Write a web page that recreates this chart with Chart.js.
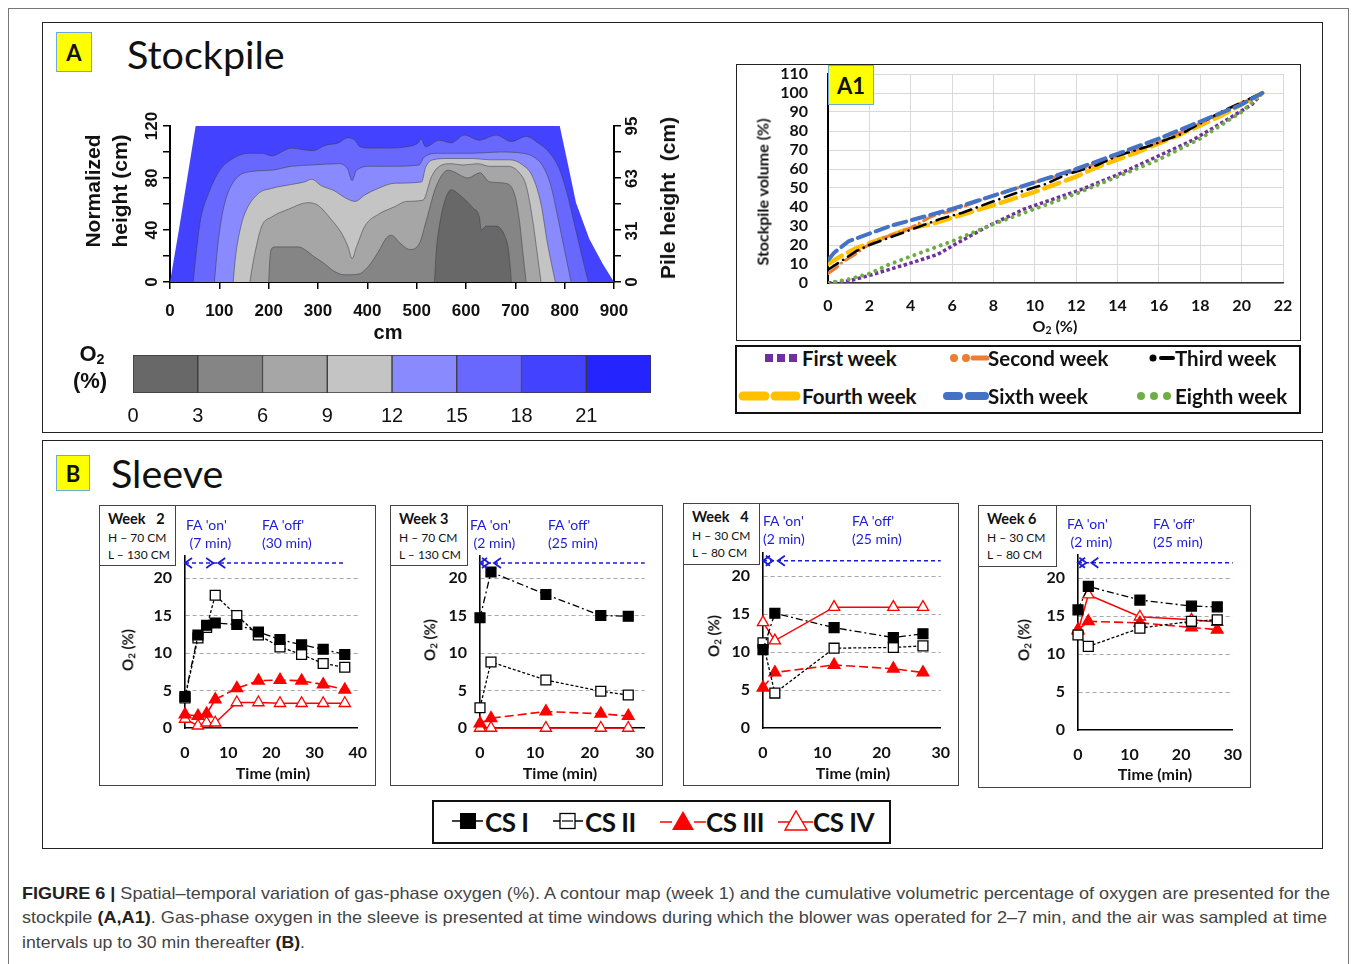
<!DOCTYPE html>
<html>
<head>
<meta charset="utf-8">
<title>Figure 6</title>
<script src="https://cdn.jsdelivr.net/npm/chart.js@4.4.1/dist/chart.umd.min.js"></script>
<style>
  body { margin: 0; background: #fff; }
  #page { position: relative; width: 1357px; height: 964px; overflow: hidden; font-family: Lato, "Liberation Sans", sans-serif; color: #111; }
  .box { position: absolute; box-sizing: border-box; }
  canvas { position: absolute; }
  .c { position: absolute; transform: translate(-50%, -50%); white-space: nowrap; }
  .r { position: absolute; transform: translate(-50%, -50%) rotate(-90deg); white-space: nowrap; }
  .l { position: absolute; transform: translateY(-50%); white-space: nowrap; }
  .tag { position: absolute; box-sizing: border-box; background: #ffff00; border: 1px solid #6fa8dc; font: bold 22px Lato, sans-serif; display: flex; align-items: center; justify-content: center; }
  .arial { font-family: "Liberation Sans", Arial, sans-serif; font-weight: bold; }
  .info { position: absolute; box-sizing: border-box; border: 1.5px solid #444; background: #fff; padding: 4px 0 0 8px; font-size: 12px; line-height: 17.5px; }
  .info b { font-size: 14.5px; }
  .fa { position: absolute; color: #1c1cd6; font-size: 14px; line-height: 18px; white-space: nowrap; }
  .bt { font-weight: bold; font-size: 16px; }
  .leg { font-weight: bold; font-size: 20.5px; }
  .legb { font-weight: bold; font-size: 26px; letter-spacing: -0.5px; }
  .cap { position: absolute; left: 22px; white-space: nowrap; transform-origin: 0 50%; font-family: "Liberation Sans Narrow", "Liberation Sans", Arial, sans-serif; font-size: 16.5px; color: #444; }
  .cap b { color: #222; }
  sub { font-size: 0.65em; vertical-align: -0.25em; }
</style>
</head>
<body>
<div id="page">
  <!-- frames -->
  <div class="box" style="left:8px;top:8px;width:1341px;height:980px;border:1px solid #777;"></div>
  <div class="box" style="left:42px;top:22px;width:1281px;height:411px;border:1.5px solid #222;"></div>
  <div class="box" style="left:42px;top:440px;width:1281px;height:409px;border:1.5px solid #222;"></div>

  <!-- panel A -->
  <div class="tag" style="left:56px;top:32px;width:36px;height:40px;">A</div>
  <div class="l" style="left:127px;top:53px;font-size:39.5px;">Stockpile</div>
  <canvas id="contour" width="560" height="250" style="left:100px;top:100px"></canvas>
  <div class="r arial" style="left:93px;top:191px;font-size:21px;">Normalized</div>
  <div class="r arial" style="left:120px;top:191px;font-size:21px;">height (cm)</div>
  <div class="r arial" style="left:668px;top:198px;font-size:21px;">Pile height&nbsp; (cm)</div>
  <div class="c arial" style="left:388px;top:332px;font-size:20px;">cm</div>
  <div class="c arial" style="left:92px;top:354px;font-size:22px;">O<sub>2</sub></div>
  <div class="c arial" style="left:90px;top:381px;font-size:22px;">(%)</div>
  <canvas id="colorbar" width="545" height="80" style="left:120px;top:352px"></canvas>

  <!-- panel A1 -->
  <div class="box" style="left:736px;top:64px;width:565px;height:277px;border:1.5px solid #222;"></div>
  <canvas id="cumul" width="558" height="272" style="left:740px;top:66px"></canvas>
  <div class="tag" style="left:828px;top:65px;width:46px;height:40px;">A1</div>
  <div class="r" style="left:762px;top:192px;font-size:16px;font-weight:bold;">Stockpile volume (%)</div>
  <div class="c" style="left:1055px;top:326px;font-size:16px;font-weight:bold;">O<sub>2</sub> (%)</div>
  <div class="box" style="left:735px;top:345px;width:566px;height:69px;border:2px solid #111;"></div>
  <svg class="box" style="left:735px;top:345px" width="566" height="69">
    <line x1="30" y1="13" x2="62" y2="13" stroke="#7030a0" stroke-width="8" stroke-dasharray="8,4"/>
    <circle cx="219" cy="13" r="4" fill="#ed7d31"/><circle cx="231" cy="13" r="4" fill="#ed7d31"/>
    <line x1="238" y1="13" x2="252" y2="13" stroke="#ed7d31" stroke-width="5" stroke-linecap="round"/>
    <circle cx="418" cy="13" r="3.5" fill="#000"/>
    <line x1="426" y1="13" x2="438" y2="13" stroke="#000" stroke-width="4" stroke-linecap="round"/>
    <line x1="8" y1="51" x2="30" y2="51" stroke="#ffc000" stroke-width="9" stroke-linecap="round"/>
    <line x1="40" y1="51" x2="61" y2="51" stroke="#ffc000" stroke-width="9" stroke-linecap="round"/>
    <line x1="212" y1="51" x2="224" y2="51" stroke="#4472c4" stroke-width="8" stroke-linecap="round"/>
    <line x1="234" y1="51" x2="250" y2="51" stroke="#4472c4" stroke-width="8" stroke-linecap="round"/>
    <circle cx="406" cy="51" r="4" fill="#70ad47"/><circle cx="419" cy="51" r="4" fill="#70ad47"/><circle cx="432" cy="51" r="4" fill="#70ad47"/>
  </svg>
  <div class="l leg" style="left:802px;top:358px;">First week</div>
  <div class="l leg" style="left:988px;top:358px;">Second week</div>
  <div class="l leg" style="left:1175px;top:358px;">Third week</div>
  <div class="l leg" style="left:802px;top:396px;">Fourth week</div>
  <div class="l leg" style="left:988px;top:396px;">Sixth week</div>
  <div class="l leg" style="left:1175px;top:396px;">Eighth week</div>

  <!-- panel B -->
  <div class="tag" style="left:56px;top:455px;width:34px;height:36px;">B</div>
  <div class="l" style="left:111px;top:472px;font-size:39.5px;">Sleeve</div>

  <div class="box" style="left:99px;top:505px;width:277px;height:281px;border:1.5px solid #444;"></div>
  <div class="box" style="left:390px;top:505px;width:273px;height:281px;border:1.5px solid #444;"></div>
  <div class="box" style="left:683px;top:503px;width:276px;height:283px;border:1.5px solid #444;"></div>
  <div class="box" style="left:978px;top:505px;width:273px;height:283px;border:1.5px solid #444;"></div>

  <canvas id="w2" width="274" height="278" style="left:100px;top:506px"></canvas>
  <canvas id="w3" width="270" height="278" style="left:391px;top:506px"></canvas>
  <canvas id="w4" width="273" height="280" style="left:684px;top:504px"></canvas>
  <canvas id="w6" width="270" height="280" style="left:979px;top:506px"></canvas>

  <div class="info" style="left:99px;top:505px;width:77px;height:61px;"><b>Week&nbsp;&nbsp; 2</b><br>H – 70 CM<br>L – 130 CM</div>
  <div class="info" style="left:390px;top:505px;width:78px;height:61px;"><b>Week 3</b><br>H – 70 CM<br>L – 130 CM</div>
  <div class="info" style="left:683px;top:503px;width:77px;height:62px;"><b>Week&nbsp;&nbsp; 4</b><br>H – 30 CM<br>L – 80 CM</div>
  <div class="info" style="left:978px;top:505px;width:79px;height:62px;"><b>Week 6</b><br>H – 30 CM<br>L – 80 CM</div>

  <div class="fa" style="left:186px;top:516px;">FA 'on'<br>&nbsp;(7 min)</div>
  <div class="fa" style="left:262px;top:516px;">FA 'off'<br>(30 min)</div>
  <div class="fa" style="left:470px;top:516px;">FA 'on'<br>&nbsp;(2 min)</div>
  <div class="fa" style="left:548px;top:516px;">FA 'off'<br>(25 min)</div>
  <div class="fa" style="left:763px;top:512px;">FA 'on'<br>(2 min)</div>
  <div class="fa" style="left:852px;top:512px;">FA 'off'<br>(25 min)</div>
  <div class="fa" style="left:1067px;top:515px;">FA 'on'<br>&nbsp;(2 min)</div>
  <div class="fa" style="left:1153px;top:515px;">FA 'off'<br>(25 min)</div>

  <div class="r bt" style="left:128px;top:650px;font-size:15px;">O<sub>2</sub> (%)</div>
  <div class="r bt" style="left:430px;top:640px;font-size:15px;">O<sub>2</sub> (%)</div>
  <div class="r bt" style="left:714px;top:636px;font-size:15px;">O<sub>2</sub> (%)</div>
  <div class="r bt" style="left:1024px;top:640px;font-size:15px;">O<sub>2</sub> (%)</div>
  <div class="c bt" style="left:273px;top:772px;">Time (min)</div>
  <div class="c bt" style="left:560px;top:772px;">Time (min)</div>
  <div class="c bt" style="left:853px;top:772px;">Time (min)</div>
  <div class="c bt" style="left:1155px;top:773px;">Time (min)</div>

  <div class="box" style="left:432px;top:800px;width:459px;height:44px;border:2px solid #111;"></div>
  <svg class="box" style="left:432px;top:800px" width="459" height="44">
    <line x1="20" y1="21" x2="51" y2="21" stroke="#000" stroke-width="1.5"/>
    <rect x="28" y="13" width="16" height="16" fill="#000"/>
    <line x1="121" y1="21" x2="151" y2="21" stroke="#000" stroke-width="1.5"/>
    <rect x="128" y="13.5" width="15" height="15" fill="#fff" stroke="#000" stroke-width="1.3"/>
    <line x1="130" y1="21" x2="141" y2="21" stroke="#000" stroke-width="1.2"/>
    <line x1="228" y1="22" x2="240" y2="22" stroke="#f00" stroke-width="1.5"/>
    <line x1="262" y1="22" x2="274" y2="22" stroke="#f00" stroke-width="1.5"/>
    <polygon points="251,11 262,30 240,30" fill="#f00"/>
    <line x1="346" y1="22" x2="381" y2="22" stroke="#f00" stroke-width="1.5"/>
    <polygon points="364,11 375,30 353,30" fill="#fff" stroke="#f00" stroke-width="1.4"/>
  </svg>
  <div class="l legb" style="left:485px;top:822px;">CS I</div>
  <div class="l legb" style="left:585px;top:822px;">CS II</div>
  <div class="l legb" style="left:706px;top:822px;">CS III</div>
  <div class="l legb" style="left:813px;top:822px;">CS IV</div>

  <!-- caption -->
  <div class="cap" data-w="1308" style="top:884px;"><b>FIGURE 6 |</b> Spatial–temporal variation of gas-phase oxygen (%). A contour map (week 1) and the cumulative volumetric percentage of oxygen are presented for the</div>
  <div class="cap" data-w="1305" style="top:908px;">stockpile <b>(A,A1)</b>. Gas-phase oxygen in the sleeve is presented at time windows during which the blower was operated for 2–7 min, and the air was sampled at time</div>
  <div class="cap" data-w="283" style="top:933px;">intervals up to 30 min thereafter <b>(B)</b>.</div>
</div>

<script>
// ---- Panel A: contour edges (x in cm, normalized height in cm), one per O2 band ----
const edge0 = [[536,0],[540,25],[546,43],[556,61],[570,71],[587,67],[614,57],[627,50],[631,40],[641,43],[661,43],[678,36],[686,25],[690,10],[692,0]];
const edge3 = [[200,0],[202,15],[205,25],[213,27],[260,27],[277,24],[290,20],[310,15],[334,8],[354,5.5],[381,6],[402,12],[422,23],[439,34],[449,36],[466,30],[486,25],[506,30],[520,48],[540,74],[564,86],[574,85],[604,80],[628,84],[648,77],[678,76],[698,68],[708,48],[716,20],[722,0]];
const edge6 = [[162,0],[167,12],[172,22],[186,43],[206,50],[240,56],[280,61],[300,59],[327,48],[347,38],[361,27],[369,18],[378,27],[395,43],[422,52],[456,58],[479,62],[513,63],[530,81],[546,89],[570,91],[594,90],[624,91],[648,89],[685,89],[708,84],[722,74],[735,48],[745,20],[752,0]];
const edge9 = [[128,0],[133,20],[142,40],[152,53],[179,68],[206,72],[246,75],[273,77],[287,79],[307,74],[334,70],[354,65],[375,62],[395,67],[422,72],[456,76],[510,77],[518,88],[533,94],[564,95],[614,95],[648,94],[688,94],[715,90],[735,81],[752,60],[765,30],[781,0]];
const edge12 = [[90,0],[96,25],[104,48],[115,66],[135,80],[165,85],[206,86],[246,89],[287,90],[341,91],[360,87],[369,78],[378,86],[408,89],[445,89],[505,90],[515,96],[546,99],[614,99],[668,100],[715,99],[738,96],[756,89],[772,74],[786,50],[800,24],[813,0]];
const edge15 = [[47,0],[54,25],[62,48],[78,68],[101,86],[128,95],[159,99],[186,99],[207,97],[226,100],[246,103],[267,102],[290,101],[314,105],[341,107],[361,111],[375,109],[385,104],[408,103],[445,103],[479,104],[503,107],[509,110],[518,104],[546,109],[570,107],[597,113],[627,109],[661,113],[692,108],[722,112],[746,107],[768,100],[788,88],[805,68],[820,44],[835,20],[848,0]];
const edge18 = [[0,0],[18,40],[35,80],[52,120],[790,120],[808,88],[823,61],[850,33],[877,14],[900,0]];
const bandColors = ['#686868', '#858585', '#a6a6a6', '#c4c4c4', '#8a8aff', '#6868ff', '#4242ff', '#2424ff'];

const normTicks = [0, 40, 80, 120];
const pileTicks = [0, 31, 63, 95];
const pileMax = 95;
const o2Levels = [0, 3, 6, 9, 12, 15, 18, 21];

// ---- Panel A1: cumulative stockpile volume vs O2 ----
const firstO2 = [0, 1, 2, 3.7, 5.3, 6, 7.75, 9.5, 12.2, 14, 15.8, 17.6, 19.3, 20.5, 21];
const firstVol = [0, 1, 4, 9.5, 15, 19.5, 30, 39, 49, 57, 66, 75, 86, 94, 100];
const secondO2 = [0, 0.4, 0.7, 1.3, 1.8, 2.5, 4, 5, 6, 8, 10, 12, 14, 16, 18, 20, 21];
const secondVol = [5, 8, 11, 15, 19, 23, 29, 35, 38, 46, 53, 59, 67, 74, 84, 95, 100];
const thirdO2 = [0, 0.7, 1.4, 2, 2.5, 4, 5.5, 6.5, 8, 9, 10.5, 11.5, 13, 14, 15.5, 17, 18, 19, 20, 21];
const thirdVol = [7, 12, 17, 20, 22, 28, 34, 37, 43, 47, 52, 57, 62, 67, 72, 78, 84, 90, 95, 100];
const fourthO2 = [0, 0.3, 0.6, 1.3, 2, 3, 4, 5, 6.5, 8, 10, 12, 13, 15, 17, 19, 20, 21];
const fourthVol = [10, 12, 14, 18, 21, 25, 29, 31, 36, 41, 48, 56, 61, 69, 78, 88, 94, 100];
const sixthO2 = [0, 0.3, 1, 2, 3, 4, 6, 8, 10, 12, 14, 16, 18, 20, 21];
const sixthVol = [12, 16, 22, 26, 30, 33, 39, 46, 53, 60, 68, 76, 85, 94, 100];
const eighthO2 = [0, 1, 2, 3, 4, 6, 8, 10, 12, 14, 16, 18, 20, 21];
const eighthVol = [0, 2, 5, 10, 14, 22, 31, 39, 47, 56, 65, 76, 90, 100];

// ---- Panel B: sleeve O2 (%) vs time (min) ----
const w2Time = [0, 3, 5, 7, 12, 17, 22, 27, 32, 37];
const w2CS1 = [4.2, 12.4, 13.7, 14.0, 13.8, 12.8, 11.8, 11.1, 10.5, 9.8];
const w2CS2 = [4.0, 12.0, 13.4, 17.7, 15.0, 12.4, 10.8, 9.8, 8.6, 8.1];
const w2CS3 = [1.8, 1.6, 1.9, 3.8, 5.3, 6.3, 6.4, 6.3, 5.8, 5.1];
const w2CS4 = [1.2, 0.3, 0.7, 0.7, 3.4, 3.4, 3.3, 3.3, 3.3, 3.3];

const w3Time = [0, 2, 12, 22, 27];
const w3CS1 = [14.7, 20.8, 17.8, 15.0, 14.9];
const w3CS2 = [2.7, 8.8, 6.4, 4.9, 4.4];
const w3CS3 = [0.6, 1.3, 2.2, 1.9, 1.6];
const w3CS4 = [0, 0, 0, 0, 0];

const w4Time = [0, 2, 12, 22, 27];
const w4CS1 = [10.3, 15.1, 13.2, 11.9, 12.4];
const w4CS2 = [11.2, 4.6, 10.5, 10.6, 10.8];
const w4CS3 = [5.3, 7.3, 8.3, 7.8, 7.3];
const w4CS4 = [13.9, 11.5, 15.9, 15.9, 15.9];

const w6Time = [0, 2, 12, 22, 27];
const w6CS1 = [15.8, 18.9, 17.1, 16.3, 16.2];
const w6CS2 = [12.5, 11.0, 13.4, 14.3, 14.5];
const w6CS3 = [13.2, 14.3, 14.1, 13.5, 13.2];
const w6CS4 = [13.0, 17.8, 14.9, 14.5, 14.2];

const o2Ticks = [0, 5, 10, 15, 20];
const faLevel = 22;

Chart.defaults.font.family = 'Lato, "Liberation Sans", sans-serif';
Chart.defaults.color = '#111';

const pts = (xs, ys) => xs.map((x, i) => ({ x, y: ys[i] }));
const arialBold = { family: '"Liberation Sans Narrow", "Liberation Sans", sans-serif', weight: 'bold', size: 17 };
const tickBold = { family: 'Lato', weight: 'bold', size: 16 };
const noPad = s => { s.paddingTop = 0; s.paddingBottom = 0; s.paddingLeft = 0; s.paddingRight = 0; };

// rotated tick labels on both height axes of the contour map
const rotTicks = {
  id: 'rotTicks',
  afterDraw(chart) {
    const { ctx } = chart;
    const yl = chart.scales.y, yr = chart.scales.y2;
    ctx.save();
    ctx.font = 'bold 17px "Liberation Sans Narrow", "Liberation Sans", sans-serif';
    ctx.fillStyle = '#111';
    ctx.textAlign = 'center';
    ctx.textBaseline = 'middle';
    const put = (x, y, t) => { ctx.save(); ctx.translate(x, y); ctx.rotate(-Math.PI / 2); ctx.fillText(t, 0, 0); ctx.restore(); };
    normTicks.forEach(v => put(yl.right - 18, yl.getPixelForValue(v), String(v)));
    pileTicks.forEach(v => put(yr.left + 18, yr.getPixelForValue(v), String(v)));
    ctx.restore();
  }
};

const edges = [edge0, edge3, edge6, edge9, edge12, edge15, edge18];
new Chart(document.getElementById('contour'), {
  type: 'line',
  data: {
    datasets: edges.map((e, i) => ({
      data: e.map(([x, y]) => ({ x, y })),
      fill: 'origin',
      backgroundColor: bandColors[i],
      borderColor: i === 6 ? 'rgba(0,0,0,0)' : 'rgba(60,60,70,0.6)',
      borderWidth: i === 6 ? 0 : 0.9,
      pointRadius: 0,
      cubicInterpolationMode: i === 6 ? 'default' : 'monotone',
      tension: 0
    }))
  },
  options: {
    responsive: false, animation: false, events: [],
    layout: { padding: { top: 26, right: 0, bottom: 0, left: 0 } },
    plugins: { legend: { display: false }, tooltip: { enabled: false } },
    scales: {
      x: {
        type: 'linear', min: 0, max: 900,
        ticks: { stepSize: 100, font: arialBold, padding: 12, maxRotation: 0 },
        grid: { drawOnChartArea: false, color: '#000', tickLength: 7, lineWidth: 1.5 },
        border: { color: '#000', width: 2 },
        afterFit: s => { s.height = 68; }
      },
      y: {
        min: 0, max: 120,
        ticks: { stepSize: 20, callback: () => '' },
        grid: { drawOnChartArea: false, color: '#000', tickLength: 7, lineWidth: 1.5 },
        border: { color: '#000', width: 2 },
        afterFit: s => { s.width = 70; }
      },
      y2: {
        position: 'right', min: 0, max: pileMax,
        afterBuildTicks: s => { s.ticks = Array.from({ length: 7 }, (_, i) => ({ value: i * pileMax / 6 })); },
        ticks: { callback: () => '' },
        grid: { drawOnChartArea: false, color: '#000', tickLength: 7, lineWidth: 1.5 },
        border: { color: '#000', width: 2 },
        afterFit: s => { s.width = 46; }
      }
    }
  },
  plugins: [rotTicks]
});

// colour bar for the O2 bands
new Chart(document.getElementById('colorbar'), {
  type: 'bar',
  data: {
    labels: ['O2'],
    datasets: o2Levels.map((lv, i) => ({
      data: [[lv, lv + 3]],
      backgroundColor: bandColors[i],
      borderColor: '#3a3a3a',
      borderWidth: 1,
      borderSkipped: false,
      grouped: false,
      barPercentage: 1,
      categoryPercentage: 1
    }))
  },
  options: {
    indexAxis: 'y', responsive: false, animation: false, events: [],
    layout: { padding: { top: 3, left: 13, right: 14, bottom: 0 } },
    plugins: { legend: { display: false }, tooltip: { enabled: false } },
    scales: {
      x: {
        type: 'linear', min: 0, max: 24,
        ticks: { stepSize: 3, padding: 3, font: { family: '"Liberation Sans", sans-serif', size: 20 }, callback: v => (v < 24 ? v : '') },
        grid: { display: false }, border: { display: false },
        afterFit: s => { s.height = 39; }
      },
      y: { display: false }
    }
  }
});

// A1 cumulative curves
new Chart(document.getElementById('cumul'), {
  type: 'line',
  data: {
    datasets: [
      { label: 'Sixth week', data: pts(sixthO2, sixthVol), borderColor: '#4472c4', borderWidth: 4, borderDash: [13, 6], borderCapStyle: 'round' },
      { label: 'Third week', data: pts(thirdO2, thirdVol), borderColor: '#000', borderWidth: 2.6, borderDash: [12, 6, 0.01, 6], borderCapStyle: 'round' },
      { label: 'Second week', data: pts(secondO2, secondVol), borderColor: '#ed7d31', borderWidth: 3, borderDash: [12, 5, 0.01, 5], borderCapStyle: 'round' },
      { label: 'Fourth week', data: pts(fourthO2, fourthVol), borderColor: '#ffc000', borderWidth: 4.5, borderDash: [16, 7], borderCapStyle: 'round' },
      { label: 'Eighth week', data: pts(eighthO2, eighthVol), borderColor: '#70ad47', borderWidth: 4, borderDash: [0.01, 7], borderCapStyle: 'round' },
      { label: 'First week', data: pts(firstO2, firstVol), borderColor: '#7030a0', borderWidth: 3.5, borderDash: [3.5, 2.5], borderCapStyle: 'butt' }
    ].map(d => Object.assign(d, { pointRadius: 0, tension: 0, fill: false }))
  },
  options: {
    responsive: false, animation: false, events: [],
    layout: { autoPadding: false, padding: { top: 8, right: 15, bottom: 0, left: 0 } },
    plugins: { legend: { display: false }, tooltip: { enabled: false } },
    scales: {
      x: {
        type: 'linear', min: 0, max: 22,
        ticks: { stepSize: 2, padding: 13, font: tickBold, maxRotation: 0, autoSkip: false },
        grid: { color: '#d9d9d9', drawTicks: false },
        border: { color: '#333', width: 1.5 },
        afterFit: s => { s.height = 55; noPad(s); }
      },
      y: {
        min: 0, max: 110,
        ticks: { stepSize: 10, padding: 20, font: tickBold, autoSkip: false },
        grid: { color: '#d9d9d9', drawTicks: false },
        border: { color: '#000', width: 2 },
        afterFit: s => { s.width = 88; noPad(s); }
      }
    }
  }
});

// blue FA on/off arrows drawn on the sleeve charts
const faArrow = {
  id: 'faArrow',
  afterDatasetsDraw(chart, args, opts) {
    const { ctx } = chart;
    const xs = chart.scales.x, ys = chart.scales.y;
    const y = ys.getPixelForValue(faLevel);
    const x0 = xs.getPixelForValue(0), x1 = xs.getPixelForValue(opts.on), x2 = xs.getPixelForValue(opts.off);
    ctx.save();
    ctx.strokeStyle = '#1c1cd6';
    ctx.lineWidth = 1.6;
    ctx.setLineDash([4, 3]);
    ctx.beginPath(); ctx.moveTo(x0, y); ctx.lineTo(x2, y); ctx.stroke();
    ctx.setLineDash([]);
    ctx.lineWidth = 1.8;
    const head = (x, dir) => { ctx.beginPath(); ctx.moveTo(x - dir * 7, y - 5); ctx.lineTo(x, y); ctx.lineTo(x - dir * 7, y + 5); ctx.stroke(); };
    head(x0, -1);
    head(x1 - 2, 1);
    head(x1 + 3, -1);
    ctx.restore();
  }
};

function sleeveChart(id, time, cs1, cs2, cs3, cs4, geo) {
  new Chart(document.getElementById(id), {
    type: 'line',
    data: {
      datasets: [
        { label: 'CS I', data: pts(time, cs1), borderColor: '#000', borderWidth: 1.3, borderDash: [7, 3, 2, 3], pointStyle: 'rect', pointRadius: 7, pointBackgroundColor: '#000', pointBorderColor: '#000' },
        { label: 'CS II', data: pts(time, cs2), borderColor: '#000', borderWidth: 1.3, borderDash: [3, 2], pointStyle: 'rect', pointRadius: 7, pointBackgroundColor: '#fff', pointBorderColor: '#000', pointBorderWidth: 1.3 },
        { label: 'CS III', data: pts(time, cs3), borderColor: '#f00', borderWidth: 1.6, borderDash: [9, 4], pointStyle: 'triangle', pointRadius: 6.5, pointBackgroundColor: '#f00', pointBorderColor: '#f00' },
        { label: 'CS IV', data: pts(time, cs4), borderColor: '#f00', borderWidth: 1.5, pointStyle: 'triangle', pointRadius: 6.5, pointBackgroundColor: '#fff', pointBorderColor: '#f00', pointBorderWidth: 1.3 }
      ].map(d => Object.assign(d, { tension: 0, fill: false, clip: false }))
    },
    options: {
      responsive: false, animation: false, events: [],
      layout: { padding: { top: geo.top, right: geo.right, bottom: 0, left: 0 } },
      plugins: { legend: { display: false }, tooltip: { enabled: false }, faArrow: { on: geo.on, off: geo.off } },
      scales: {
        x: {
          type: 'linear', min: 0, max: geo.max,
          ticks: { stepSize: 10, padding: 7, font: tickBold, maxRotation: 0 },
          grid: { display: false },
          border: { color: '#000', width: 1.6 },
          afterFit: s => { s.height = geo.xh; }
        },
        y: {
          min: 0, max: 23,
          afterBuildTicks: s => { s.ticks = o2Ticks.map(v => ({ value: v })); },
          ticks: { padding: 13, font: tickBold },
          grid: { drawTicks: false, color: c => (c.tick && c.tick.value === 0 ? 'rgba(0,0,0,0)' : '#a8a8a8') },
          border: { color: '#000', width: 1.6, dash: [4, 3] },
          afterFit: s => { s.width = geo.left; }
        }
      }
    },
    plugins: [faArrow]
  });
}

sleeveChart('w2', w2Time, w2CS1, w2CS2, w2CS3, w2CS4, { left: 85, right: 16, top: 49.5, xh: 56, max: 40, on: 7, off: 37 });
sleeveChart('w3', w3Time, w3CS1, w3CS2, w3CS3, w3CS4, { left: 89, right: 15, top: 49.5, xh: 56, max: 30, on: 2, off: 30 });
sleeveChart('w4', w4Time, w4CS1, w4CS2, w4CS3, w4CS4, { left: 79, right: 16, top: 49.2, xh: 56, max: 30, on: 2, off: 30 });
sleeveChart('w6', w6Time, w6CS1, w6CS2, w6CS3, w6CS4, { left: 99, right: 13, top: 49.2, xh: 56, max: 30, on: 2, off: 30 });

// squeeze caption lines to the widths of the printed lines
document.querySelectorAll('.cap').forEach(el => {
  const w = el.getBoundingClientRect().width;
  el.style.transform = 'scaleX(' + (+el.dataset.w / w) + ')';
});
</script>
</body>
</html>
